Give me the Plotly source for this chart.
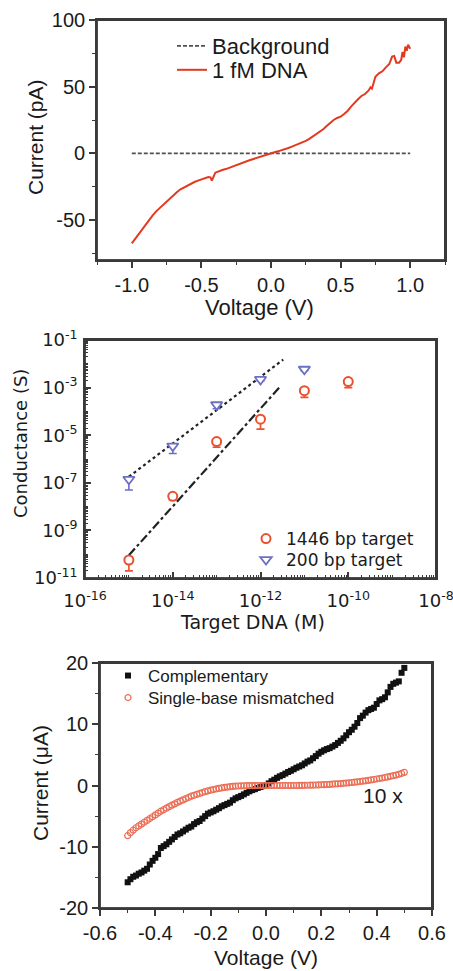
import plotly.graph_objects as go

W, H = 453, 971

# ---------------- Panel 1 data (I-V, pA) ----------------
p1_bg_v = [-1.0, 1.0]
p1_bg_i = [0.0, 0.0]
p1_v = [-1.000, -0.975, -0.950, -0.925, -0.900, -0.875, -0.850, -0.825, -0.800, -0.775,
        -0.750, -0.725, -0.700, -0.675, -0.650, -0.625, -0.600, -0.575, -0.550, -0.525,
        -0.500, -0.475, -0.450, -0.435, -0.425, -0.400, -0.375, -0.350, -0.325, -0.300,
        -0.275, -0.250, -0.225, -0.200, -0.175, -0.150, -0.125, -0.100, -0.075, -0.050,
        -0.025, 0.000, 0.025, 0.050, 0.075, 0.100, 0.125, 0.150, 0.175, 0.200,
        0.225, 0.250, 0.275, 0.300, 0.325, 0.350, 0.375, 0.400, 0.425, 0.450,
        0.475, 0.500, 0.525, 0.550, 0.575, 0.600, 0.625, 0.650, 0.675, 0.700,
        0.715, 0.725, 0.750, 0.775, 0.800, 0.825, 0.850, 0.870, 0.885, 0.900,
        0.920, 0.935, 0.945, 0.955, 0.965, 0.975, 0.985, 1.000]
p1_i = [-67.5, -64.0, -60.0, -56.5, -53.5, -49.5, -46.5, -43.5, -41.0, -38.5,
        -36.0, -33.5, -31.5, -29.0, -27.0, -25.5, -24.0, -22.5, -21.5, -20.5,
        -19.5, -18.5, -17.8, -18.0, -20.5, -14.5, -13.3, -12.5, -11.8, -10.8,
        -9.6, -8.5, -7.5, -6.5, -5.8, -5.0, -4.2, -3.3, -2.4, -1.5,
        -0.7, 0.0, 0.8, 1.5, 2.2, 3.0, 4.0, 5.0, 6.0, 7.0,
        8.2, 9.3, 10.8, 12.5, 14.2, 16.0, 18.0, 20.5, 23.0, 25.0,
        26.5, 27.5, 29.5, 31.8, 35.0, 38.0, 40.5, 43.0, 44.5, 47.0,
        49.5, 48.5, 57.5, 60.0, 61.5, 64.5, 67.0, 72.5, 73.0, 68.0,
        68.0, 70.0, 76.0, 72.0, 80.0, 77.0, 81.5, 78.5]
p1_xtickvals = [-1.0, -0.5, 0.0, 0.5, 1.0]
p1_xticktext = ["-1.0", "-0.5", "0.0", "0.5", "1.0"]
p1_ytickvals = [-50, 0, 50, 100]
p1_yticktext = ["-50", "0", "50", "100"]

# ---------------- Panel 2 data (conductance vs conc.) ----------------
conc_1446 = [1e-15, 1e-14, 1e-13, 1e-12, 1e-11, 1e-10]
g_1446 = [5.7e-11, 2.7e-8, 5.4e-6, 4.7e-5, 7.4e-4, 1.8e-3]
g_1446_errminus = [3.7e-11, 8e-9, 2.3e-6, 2.9e-5, 3.5e-4, 8e-4]
g_1446_errplus = [0, 0, 0, 0, 0, 0]
conc_200 = [1e-15, 1e-14, 1e-13, 1e-12, 1e-11]
g_200 = [1.4e-7, 3.5e-6, 1.9e-4, 2.2e-3, 5.9e-3]
g_200_errminus = [9e-8, 1.8e-6, 6e-5, 3e-4, 8e-4]
g_200_errplus = [0, 0, 0, 0, 0]
fit_200_x = [1e-15, 3.3e-12]
fit_200_y = [1.8e-7, 1.5e-2]
fit_1446_x = [1e-15, 2.8e-12]
fit_1446_y = [9e-11, 1.1e-3]
p2_xtickvals = [1e-16, 1e-14, 1e-12, 1e-10, 1e-8]
p2_xticktext = ["10<sup>-16</sup>", "10<sup>-14</sup>", "10<sup>-12</sup>",
                "10<sup>-10</sup>", "10<sup>-8</sup>"]
p2_ytickvals = [1e-11, 1e-9, 1e-7, 1e-5, 1e-3, 1e-1]
p2_yticktext = ["10<sup>-11</sup>", "10<sup>-9</sup>", "10<sup>-7</sup>",
                "10<sup>-5</sup>", "10<sup>-3</sup>", "10<sup>-1</sup>"]

# ---------------- Panel 3 data (I-V, uA) ----------------
p3_v = [-0.50, -0.49, -0.48, -0.47, -0.46, -0.45, -0.44, -0.43, -0.42, -0.41,
        -0.40, -0.39, -0.38, -0.37, -0.36, -0.35, -0.34, -0.33, -0.32, -0.31,
        -0.30, -0.29, -0.28, -0.27, -0.26, -0.25, -0.24, -0.23, -0.22, -0.21,
        -0.20, -0.19, -0.18, -0.17, -0.16, -0.15, -0.14, -0.13, -0.12, -0.11,
        -0.10, -0.09, -0.08, -0.07, -0.06, -0.05, -0.04, -0.03, -0.02, -0.01,
        0.00, 0.01, 0.02, 0.03, 0.04, 0.05, 0.06, 0.07, 0.08, 0.09,
        0.10, 0.11, 0.12, 0.13, 0.14, 0.15, 0.16, 0.17, 0.18, 0.19,
        0.20, 0.21, 0.22, 0.23, 0.24, 0.25, 0.26, 0.27, 0.28, 0.29,
        0.30, 0.31, 0.32, 0.33, 0.34, 0.35, 0.36, 0.37, 0.38, 0.39,
        0.40, 0.41, 0.42, 0.43, 0.44, 0.45, 0.46, 0.47, 0.48, 0.49, 0.50]
p3_comp = [-15.8, -15.3, -14.9, -14.7, -14.4, -14.2, -13.9, -13.6, -12.9, -12.3,
           -11.8, -11.2, -10.2, -9.9, -9.6, -9.2, -8.8, -8.4, -8.0, -7.8,
           -7.5, -7.2, -6.9, -6.7, -6.3, -6.0, -5.8, -5.4, -5.0, -4.6,
           -4.4, -4.2, -3.95, -3.7, -3.4, -3.2, -3.0, -2.8, -2.4, -2.1,
           -1.9, -1.7, -1.45, -1.2, -0.95, -0.75, -0.6, -0.4, -0.25, -0.1,
           0.05, 0.35, 0.7, 0.95, 1.25, 1.5, 1.7, 1.95, 2.2, 2.4,
           2.65, 2.9, 3.1, 3.3, 3.6, 3.9, 4.1, 4.45, 4.8, 5.2,
           5.5, 5.75, 5.95, 6.1, 6.35, 6.6, 6.95, 7.3, 7.7, 8.2,
           8.7, 9.1, 9.6, 10.2, 11.0, 11.4, 11.9, 12.3, 12.5, 12.7,
           13.3, 13.9, 14.1, 14.4, 15.2, 16.1, 16.6, 16.8, 17.0, 18.4, 19.2]
p3_mis = [-8.2, -7.7, -7.3, -6.9, -6.6, -6.3, -6.0, -5.7, -5.4, -5.1,
          -4.8, -4.5, -4.2, -3.95, -3.7, -3.45, -3.2, -3.0, -2.75, -2.55,
          -2.35, -2.15, -1.95, -1.75, -1.6, -1.45, -1.3, -1.15, -1.0, -0.88,
          -0.77, -0.66, -0.56, -0.47, -0.39, -0.32, -0.26, -0.2, -0.15, -0.11,
          -0.08, -0.06, -0.04, -0.03, -0.02, -0.01, -0.01, 0.0, 0.0, 0.0,
          0.0, 0.0, 0.0, 0.0, 0.0, 0.0, 0.0, 0.0, 0.0, 0.0,
          0.0, 0.0, 0.01, 0.02, 0.03, 0.04, 0.05, 0.06, 0.08, 0.1,
          0.12, 0.14, 0.16, 0.19, 0.22, 0.25, 0.28, 0.32, 0.36, 0.4,
          0.44, 0.49, 0.54, 0.59, 0.65, 0.71, 0.77, 0.84, 0.91, 0.98,
          1.06, 1.14, 1.22, 1.31, 1.4, 1.5, 1.6, 1.71, 1.83, 1.97, 2.15]
p3_xtickvals = [-0.6, -0.4, -0.2, 0.0, 0.2, 0.4, 0.6]
p3_xticktext = ["-0.6", "-0.4", "-0.2", "0.0", "0.2", "0.4", "0.6"]
p3_ytickvals = [-20, -10, 0, 10, 20]
p3_yticktext = ["-20", "-10", "0", "10", "20"]

# ---------------- styling ----------------
ARIAL = "Arial, Liberation Sans, sans-serif"
DEJAVU = "DejaVu Sans, sans-serif"
AX = "#3a3a3a"
TXT = "#1a1a1a"
RED1 = "#e2391f"
RED2 = "#e9502f"
BLUE2 = "#6c6fc6"
RED3 = "#ea6e55"

# plot-area boxes in pixels: (left, right, top, bottom)
BOX1 = (97, 445, 20, 260)
BOX2 = (85, 436, 340, 578)
BOX3 = (100, 432, 663, 908)


def px(x):
    return x / W


def py(y):
    return 1 - y / H


fig = go.Figure()

# Panel 1
fig.add_trace(go.Scatter(x=p1_bg_v, y=p1_bg_i, mode="lines", name="Background",
                         line=dict(color="#505050", width=1.8, dash="4px,2px"),
                         xaxis="x", yaxis="y", legend="legend"))
fig.add_trace(go.Scatter(x=p1_v, y=p1_i, mode="lines", name="1 fM DNA",
                         line=dict(color=RED1, width=2),
                         xaxis="x", yaxis="y", legend="legend4"))

# Panel 2
fig.add_trace(go.Scatter(x=fit_200_x, y=fit_200_y, mode="lines", showlegend=False,
                         line=dict(color="#222222", width=2.2, dash="dot"),
                         xaxis="x2", yaxis="y2"))
fig.add_trace(go.Scatter(x=fit_1446_x, y=fit_1446_y, mode="lines", showlegend=False,
                         line=dict(color="#222222", width=2.2, dash="dashdot"),
                         xaxis="x2", yaxis="y2"))
fig.add_trace(go.Scatter(x=conc_1446, y=g_1446, mode="markers", name="1446 bp target",
                         marker=dict(symbol="circle", size=9, color="white",
                                     line=dict(color=RED2, width=2)),
                         error_y=dict(type="data", symmetric=False, array=g_1446_errplus,
                                      arrayminus=g_1446_errminus, color=RED2,
                                      thickness=1.6, width=4),
                         xaxis="x2", yaxis="y2", legend="legend2"))
fig.add_trace(go.Scatter(x=conc_200, y=g_200, mode="markers", name="200 bp target",
                         marker=dict(symbol="triangle-down", size=10, color="white",
                                     line=dict(color=BLUE2, width=1.8)),
                         error_y=dict(type="data", symmetric=False, array=g_200_errplus,
                                      arrayminus=g_200_errminus, color=BLUE2,
                                      thickness=1.6, width=4),
                         xaxis="x2", yaxis="y2", legend="legend5"))

# Panel 3
fig.add_trace(go.Scatter(x=p3_v, y=p3_comp, mode="markers", name="Complementary",
                         marker=dict(symbol="square", size=6, color="#111111"),
                         xaxis="x3", yaxis="y3", legend="legend3"))
fig.add_trace(go.Scatter(x=p3_v, y=p3_mis, mode="markers", name="Single-base mismatched",
                         marker=dict(symbol="circle-open", size=6, color=RED3,
                                     line=dict(width=1.2)),
                         xaxis="x3", yaxis="y3", legend="legend6"))


def lin_axis(domain, anchor, rng, tv, tt, minor_dtick, font_size):
    return dict(domain=domain, anchor=anchor, range=rng, tickmode="array",
                tickvals=tv, ticktext=tt, ticks="outside", ticklen=6, tickwidth=1.5,
                tickcolor=AX, showline=True, linecolor=AX, linewidth=1.6, mirror=True,
                showgrid=False, zeroline=False, automargin=False,
                minor=dict(dtick=minor_dtick, ticks="outside", ticklen=3.5,
                           tickwidth=1.3, tickcolor=AX, showgrid=False),
                tickfont=dict(family=ARIAL, size=font_size, color=TXT))


def log_axis(domain, anchor, rng, tv, tt, font_size, standoff):
    return dict(domain=domain, anchor=anchor, type="log", range=rng, tickmode="array",
                tickvals=tv, ticktext=tt, ticks="inside", ticklen=6, tickwidth=1.5,
                tickcolor=AX, showline=True, linecolor=AX, linewidth=1.6, mirror=True,
                showgrid=False, zeroline=False, automargin=False,
                ticklabeloverflow="allow", ticklabelstandoff=standoff,
                minor=dict(dtick="D1", ticks="inside", ticklen=3, tickwidth=1,
                           tickcolor=AX, showgrid=False),
                tickfont=dict(family=DEJAVU, size=font_size, color=TXT))


def leg(xp, yp, fam, size):
    return dict(x=px(xp), y=py(yp), xanchor="left", yanchor="middle",
                bgcolor="rgba(0,0,0,0)", borderwidth=0,
                font=dict(family=fam, size=size, color=TXT))


fig.update_layout(
    width=W, height=H, margin=dict(l=0, r=0, t=0, b=0, autoexpand=False),
    paper_bgcolor="white", plot_bgcolor="rgba(0,0,0,0)",
    xaxis=lin_axis([px(BOX1[0]), px(BOX1[1])], "y", [-1.25, 1.25], p1_xtickvals, p1_xticktext, 0.25, 20),
    yaxis=lin_axis([py(BOX1[3]), py(BOX1[2])], "x", [-80, 100], p1_ytickvals, p1_yticktext, 25, 20),
    xaxis2=log_axis([px(BOX2[0]), px(BOX2[1])], "y2", [-16, -8], p2_xtickvals, p2_xticktext, 18, 6),
    yaxis2=log_axis([py(BOX2[3]), py(BOX2[2])], "x2", [-11, -1], p2_ytickvals, p2_yticktext, 18, 2),
    xaxis3=lin_axis([px(BOX3[0]), px(BOX3[1])], "y3", [-0.6, 0.6], p3_xtickvals, p3_xticktext, 0.1, 20),
    yaxis3=lin_axis([py(BOX3[3]), py(BOX3[2])], "x3", [-20, 20], p3_ytickvals, p3_yticktext, 5, 20),
    legend=leg(172, 46, ARIAL, 22),
    legend4=leg(172, 70, ARIAL, 22),
    legend2=leg(246, 539, DEJAVU, 17),
    legend5=leg(246, 560, DEJAVU, 17),
    legend3=leg(108, 676, ARIAL, 17),
    legend6=leg(108, 698, ARIAL, 17),
    showlegend=True,
)

# closed frames around each plot area (top and right edges), drawn in paper space
for (l, r, t, b) in (BOX1, BOX2, BOX3):
    fig.add_shape(type="line", xref="paper", yref="paper",
                  x0=px(l), x1=px(r), y0=py(t), y1=py(t),
                  line=dict(color=AX, width=2), layer="above")
    fig.add_shape(type="line", xref="paper", yref="paper",
                  x0=px(r), x1=px(r), y0=py(t), y1=py(b),
                  line=dict(color=AX, width=2), layer="above")

annots = [
    dict(text="Voltage (V)", x=px(259), y=py(308), font=dict(family=ARIAL, size=22)),
    dict(text="Current (pA)", x=px(35), y=py(137), textangle=-90, font=dict(family=ARIAL, size=21)),
    dict(text="Target DNA (M)", x=px(253), y=py(622), font=dict(family=DEJAVU, size=19)),
    dict(text="Conductance (S)", x=px(20), y=py(444), textangle=-90, font=dict(family=DEJAVU, size=18)),
    dict(text="Voltage (V)", x=px(266), y=py(957), font=dict(family=ARIAL, size=21)),
    dict(text="Current (μA)", x=px(40), y=py(783), textangle=-90, font=dict(family=ARIAL, size=21)),
]
for a in annots:
    a.update(xref="paper", yref="paper", showarrow=False, xanchor="center", yanchor="middle")
    a["font"]["color"] = TXT
    fig.add_annotation(**a)

fig.add_annotation(text="10 x", x=0.423, y=-1.7, xref="x3", yref="y3", showarrow=False,
                   font=dict(family=ARIAL, size=21, color=TXT))

# Outline each plot area from plotly's own computed axis geometry (frame only, no data).
frame_js = r"""
(function(){try{
var gd=document.getElementById('{plot_id}');
function draw(){
 var fl=gd._fullLayout; if(!fl) return;
 var svgs=gd.querySelectorAll('svg.main-svg'); var svg=svgs[svgs.length>1?1:0];
 var old=svg.querySelectorAll('.frame-extra'); for(var i=0;i<old.length;i++){old[i].parentNode.removeChild(old[i]);}
 [['xaxis','yaxis'],['xaxis2','yaxis2'],['xaxis3','yaxis3']].forEach(function(p){
   var xa=fl[p[0]], ya=fl[p[1]]; if(!xa||!ya) return;
   var r=document.createElementNS('http://www.w3.org/2000/svg','rect');
   r.setAttribute('class','frame-extra');
   r.setAttribute('x',xa._offset); r.setAttribute('y',ya._offset);
   r.setAttribute('width',xa._length); r.setAttribute('height',ya._length);
   r.setAttribute('fill','none'); r.setAttribute('stroke','#3a3a3a'); r.setAttribute('stroke-width','1.8');
   svg.appendChild(r);
 });
}
draw();
if(gd.on){gd.on('plotly_afterplot',draw);}
}catch(e){}})();
"""

fig.write_html("out.html", config={"displayModeBar": False},
               post_script="document.body.style.margin='0';document.body.style.overflow='hidden';" + frame_js)
